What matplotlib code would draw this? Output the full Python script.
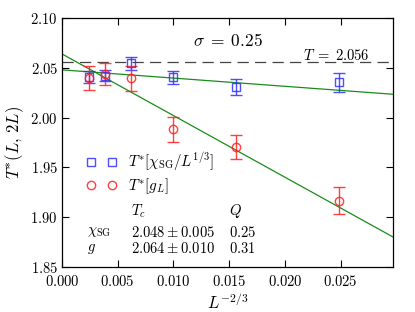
import numpy as np
import matplotlib
matplotlib.use("Agg")
import matplotlib.pyplot as plt
from matplotlib.ticker import FuncFormatter, FixedLocator
from matplotlib.lines import Line2D

plt.rcParams['mathtext.fontset'] = 'cm'
plt.rcParams['font.family'] = 'serif'
plt.rcParams['font.serif'] = ['DejaVu Serif']

# Data
L_sizes = [8192, 4096, 2048, 1024, 512, 256]
x_vals = [0.00246, 0.0039, 0.0062, 0.00992, 0.01565, 0.02485]
chi_T = [2.041, 2.042, 2.0547, 2.0406, 2.0306, 2.0356]
chi_err = [0.006, 0.0055, 0.0067, 0.0067, 0.008, 0.0095]
g_T = [2.0396, 2.044, 2.0396, 1.9883, 1.9702, 1.9165]
g_err = [0.012, 0.011, 0.0125, 0.0125, 0.012, 0.0134]
fit_chi = (2.048, -0.825)   # intercept, slope
fit_g = (2.064, -6.19)
T_line = 2.056
x_ticks = [0.000, 0.005, 0.010, 0.015, 0.020, 0.025]
y_ticks = [1.85, 1.90, 1.95, 2.00, 2.05, 2.10]
xlim = (0.0, 0.0297)
ylim = (1.85, 2.10)

BLUE = '#3030ff'
RED = '#ff2020'
GREEN = '#1a8c1a'

fig = plt.figure(figsize=(4.15, 3.12), dpi=100)
ax = fig.add_axes([0.1494, 0.1442, 0.7976, 0.7978])

xf = np.array(xlim)
ax.plot(xf, fit_chi[0] + fit_chi[1] * xf, color=GREEN, lw=0.9, zorder=1)
ax.plot(xf, fit_g[0] + fit_g[1] * xf, color=GREEN, lw=0.9, zorder=1)
ax.axhline(T_line, color='#444444', lw=0.9, ls=(0, (9, 5)), zorder=1)

ax.errorbar(x_vals, chi_T, yerr=chi_err, fmt='s', ms=6, mfc='none', mec=BLUE,
            ecolor=BLUE, elinewidth=1.0, capsize=4, capthick=1.0, mew=1.0,
            alpha=0.85, zorder=3)
ax.errorbar(x_vals, g_T, yerr=g_err, fmt='o', ms=6, mfc='none', mec=RED,
            ecolor=RED, elinewidth=1.0, capsize=4, capthick=1.0, mew=1.0,
            alpha=0.85, zorder=3)

ax.set_xlim(*xlim)
ax.set_ylim(*ylim)
ax.xaxis.set_major_locator(FixedLocator(x_ticks))
ax.yaxis.set_major_locator(FixedLocator(y_ticks))
ax.xaxis.set_major_formatter(FuncFormatter(lambda v, p: r'$%.3f$' % v))
ax.yaxis.set_major_formatter(FuncFormatter(lambda v, p: r'$%.2f$' % v))
ax.tick_params(direction='in', top=True, right=True, length=5, width=0.8, labelsize=10.5)
ax.tick_params(axis='x', pad=5)
ax.tick_params(axis='y', pad=3)
for s in ax.spines.values():
    s.set_linewidth(0.9)

ax.set_xlabel(r'$L^{-2/3}$', fontsize=12, labelpad=3)
ax.set_ylabel(r'$T^{*}(L,\,2L)$', fontsize=12, labelpad=3)

ax.text(0.5, 0.905, r'$\sigma\;=\;0.25$', transform=ax.transAxes, ha='center', va='center', fontsize=12.5)
ax.text(0.93, 0.848, r'$T\;=\;2.056$', transform=ax.transAxes, ha='right', va='center', fontsize=10.5)

labels = [r'$T^{*}[\chi_{\mathrm{SG}}/L^{1/3}]$', r'$T^{*}[g_L]$']
h2 = [Line2D([], [], ls='none', marker='s', ms=6, mfc='none', mec=BLUE, mew=1.0, alpha=0.85),
      Line2D([], [], ls='none', marker='o', ms=6, mfc='none', mec=RED, mew=1.0, alpha=0.85)]
ax.legend(h2, labels, loc='upper left', bbox_to_anchor=(0.055, 0.49), frameon=False,
          numpoints=2, fontsize=10.8, handlelength=2.0, handletextpad=0.8, labelspacing=0.2,
          borderaxespad=0)

# Table of fit results
tx0 = 0.075
tx1 = 0.207
tx2 = 0.505
fs = 10.5
ax.text(tx1, 0.225, r'$T_c$', transform=ax.transAxes, ha='left', va='center', fontsize=fs)
ax.text(tx2, 0.225, r'$Q$', transform=ax.transAxes, ha='left', va='center', fontsize=fs)
ax.text(tx0, 0.14, r'$\chi_{\mathrm{SG}}$', transform=ax.transAxes, ha='left', va='center', fontsize=fs)
ax.text(tx1, 0.14, r'$2.048 \pm 0.005$', transform=ax.transAxes, ha='left', va='center', fontsize=fs)
ax.text(tx2, 0.14, r'$0.25$', transform=ax.transAxes, ha='left', va='center', fontsize=fs)
ax.text(tx0, 0.073, r'$g$', transform=ax.transAxes, ha='left', va='center', fontsize=fs)
ax.text(tx1, 0.073, r'$2.064 \pm 0.010$', transform=ax.transAxes, ha='left', va='center', fontsize=fs)
ax.text(tx2, 0.073, r'$0.31$', transform=ax.transAxes, ha='left', va='center', fontsize=fs)

fig.savefig('out.png', dpi=100)
